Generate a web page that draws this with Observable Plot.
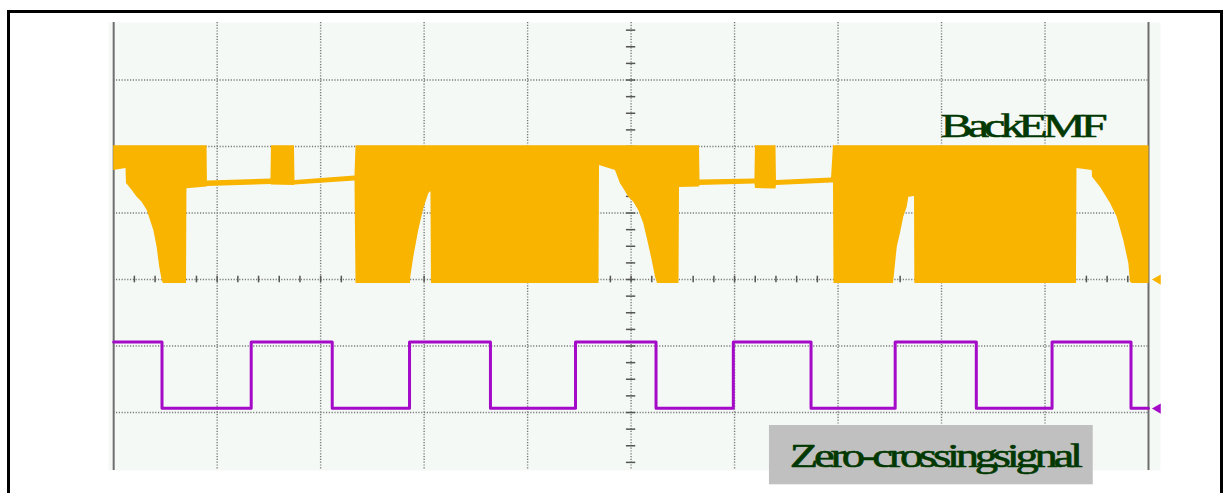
<!DOCTYPE html>
<html><head><meta charset="utf-8">
<script src="https://cdn.jsdelivr.net/npm/d3@7"></script>
<script src="https://cdn.jsdelivr.net/npm/@observablehq/plot@0.6"></script>
<style>
html,body{margin:0;padding:0;background:#fff;}
#wrap{position:relative;width:1226px;height:493px;overflow:hidden;}
#border{position:absolute;left:7px;top:10px;width:1216px;height:600px;border:3px solid #000;box-sizing:border-box;}
#chart{position:absolute;left:0;top:0;}
</style></head><body>
<div id="wrap"><div id="border"></div><div id="chart"></div></div>
<script>
// Time axis in oscilloscope divisions (0..10), voltage in divisions (centre line = 0)

// Back EMF envelope (filled PWM band): time, upper edge, lower edge
const emfT = [0.000,0.119,0.124,0.179,0.227,0.275,0.324,0.356,0.388,0.420,0.445,0.469,0.481,0.704,0.708,0.902,0.906,1.520,1.525,1.747,1.752,2.332,2.342,2.868,2.871,2.900,2.948,2.997,3.045,3.066,3.071,4.690,4.695,4.849,4.898,4.929,4.978,5.026,5.074,5.123,5.161,5.204,5.236,5.255,5.463,5.468,5.661,5.666,6.197,6.202,6.400,6.405,6.937,6.956,6.961,7.536,7.539,7.572,7.603,7.635,7.668,7.684,7.739,7.742,9.304,9.309,9.456,9.459,9.536,9.633,9.698,9.761,9.810,9.826,9.845,10.005];
const emfTop = [2.01,2.01,2.01,2.01,2.01,2.01,2.01,2.01,2.01,2.01,2.01,2.01,2.01,2.01,2.01,2.01,1.481,1.511,2.01,2.01,1.489,1.556,2.01,2.01,2.01,2.01,2.01,2.01,2.01,2.01,2.01,2.01,2.01,2.01,2.01,2.01,2.01,2.01,2.01,2.01,2.01,2.01,2.01,2.01,2.01,2.01,2.01,1.496,1.511,2.01,2.01,1.489,1.526,2.01,2.01,2.01,2.01,2.01,2.01,2.01,2.01,2.01,2.01,2.01,2.01,2.01,2.01,2.01,2.01,2.01,2.01,2.01,2.01,2.01,2.01,2.01];
const emfBottom = [1.640,1.669,1.444,1.338,1.238,1.162,1.038,0.887,0.737,0.486,0.185,-0.015,-0.06,-0.06,1.364,1.391,1.398,1.429,1.421,1.414,1.421,1.481,-0.06,-0.06,0.030,0.335,0.737,1.063,1.289,1.323,-0.06,-0.06,1.714,1.639,1.439,1.364,1.238,1.162,1.038,0.838,0.586,0.286,0.035,-0.06,-0.06,1.383,1.391,1.414,1.436,1.368,1.361,1.414,1.451,1.451,-0.06,-0.06,-0.015,0.486,0.692,0.937,1.087,1.238,1.248,-0.06,-0.06,1.669,1.639,1.538,1.388,1.143,0.937,0.586,0.241,-0.041,-0.06,-0.06];

// Zero-crossing square wave: transition times and the level held after each
const zcT = [0,0.467,1.329,2.112,2.859,3.641,4.463,5.241,5.988,6.739,7.552,8.336,9.068,9.831,10.0];
const zcLevel = [-0.94,-1.935,-0.94,-1.935,-0.94,-1.935,-0.94,-1.935,-0.94,-1.935,-0.94,-1.935,-0.94,-1.935,-1.935];

// Channel ground markers (divisions)
const groundEMF = [0];
const groundZC = [-1.94];

// Graticule
const xGrid = [1,2,3,4,5,6,7,8,9];
const xEdges = [0,10];
const yGrid = [-2,-1,0,1,2,3];
const xMinor = d3.range(1, 50).map(k => k * 0.2);
const yMinor = d3.range(-11, 16).map(k => k * 0.25);

const labelEMF = ["Back EMF"];
const labelZC = ["Zero-crossing signal"];

const orange = "#f9b400";
const purple = "#a40ac8";
const green = "#023802";

const emf = emfT.map((t, i) => ({t, lo: emfBottom[i], hi: emfTop[i]}));
const zc = zcT.map((t, i) => ({t, v: zcLevel[i]}));

const svg = Plot.plot({
  width: 1226, height: 493,
  marginLeft: 108, marginRight: 66, marginTop: 22, marginBottom: 23,
  x: {domain: [-0.05, 10.116], axis: null},
  y: {domain: [-2.872, 3.865], axis: null},
  style: {background: "transparent", overflow: "visible"},
  marks: [
    Plot.frame({fill: "#f4f9f6", stroke: "none"}),
    Plot.ruleX(xGrid, {stroke: "#7a7a7a", strokeDasharray: "1.2,1.6", strokeWidth: 1.4}),
    Plot.ruleY(yGrid, {x1: 0, x2: 10, stroke: "#7a7a7a", strokeDasharray: "1.2,1.6", strokeWidth: 1.4}),
    Plot.ruleX(xEdges, {stroke: "#6e6e6e", strokeWidth: 2}),
    Plot.ruleX(xMinor, {y1: -0.05, y2: 0.05, stroke: "#555", strokeWidth: 1.5}),
    Plot.ruleY(yMinor, {x1: 4.955, x2: 5.045, stroke: "#555", strokeWidth: 1.5}),
    Plot.areaY(emf, {x: "t", y1: "lo", y2: "hi", fill: orange}),
    Plot.line(zc, {x: "t", y: "v", curve: "step-after", stroke: purple, strokeWidth: 3}),
    Plot.dot(groundEMF, {x: 10.09, y: d => d, symbol: "triangle", rotate: -90, r: 3.8, fill: orange, stroke: "none"}),
    Plot.dot(groundZC, {x: 10.09, y: d => d, symbol: "triangle", rotate: -90, r: 3.8, fill: purple, stroke: "none"}),
    Plot.rect([0], {x1: 6.337, x2: 9.466, y1: -3.087, y2: -2.195, fill: "#c0c0c0"}),
    Plot.text(labelEMF, {x: 7.99, y: 2.15, text: d => d, textAnchor: "start", lineAnchor: "bottom", fontSize: 34, fontFamily: "Liberation Serif", fill: green, stroke: green, strokeWidth: 0.6}),
    Plot.text(labelZC, {x: 6.534, y: -2.823, text: d => d, textAnchor: "start", lineAnchor: "bottom", fontSize: 33, fontFamily: "Liberation Serif", fill: green, stroke: green, strokeWidth: 0.6})
  ]
});

d3.select(svg).selectAll("text").each(function() {
  const t = this.textContent;
  if (t === labelEMF[0]) {
    this.style.letterSpacing = "-3.5px"; this.style.wordSpacing = "-6px";
    this.setAttribute("textLength", 162); this.setAttribute("lengthAdjust", "spacingAndGlyphs");
  }
  if (t === labelZC[0]) {
    this.style.letterSpacing = "-3px"; this.style.wordSpacing = "-6px";
    this.setAttribute("textLength", 289); this.setAttribute("lengthAdjust", "spacingAndGlyphs");
  }
});

document.getElementById("chart").appendChild(svg);
</script>
</body></html>
